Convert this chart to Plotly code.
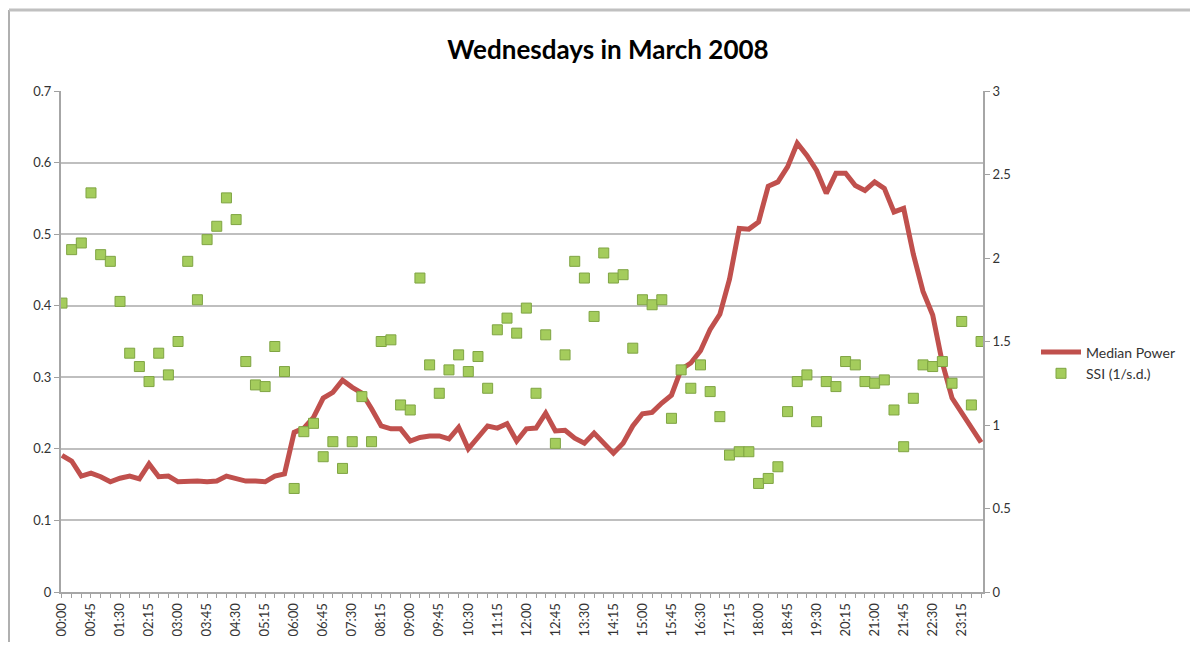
import plotly.graph_objects as go

times = [f"{h:02d}:{m:02d}" for h in range(24) for m in (0, 15, 30, 45)]

median_power = [
    0.191, 0.183, 0.162, 0.166, 0.161, 0.154, 0.159, 0.162, 0.158, 0.179,
    0.161, 0.162, 0.154, 0.155, 0.155, 0.154, 0.155, 0.162, 0.158, 0.155,
    0.155, 0.154, 0.162, 0.165, 0.223, 0.229, 0.244, 0.271, 0.279, 0.296,
    0.286, 0.278, 0.256, 0.232, 0.228, 0.228, 0.211, 0.216, 0.218, 0.218,
    0.214, 0.230, 0.200, 0.215, 0.232, 0.229, 0.235, 0.211, 0.228, 0.229,
    0.250, 0.225, 0.226, 0.215, 0.208, 0.222, 0.207, 0.194, 0.208, 0.232,
    0.249, 0.251, 0.264, 0.275, 0.311, 0.320, 0.337, 0.367, 0.388, 0.437,
    0.508, 0.507, 0.517, 0.567, 0.573, 0.594, 0.627, 0.610, 0.589, 0.557,
    0.585, 0.585, 0.568, 0.561, 0.573, 0.564, 0.531, 0.536, 0.472, 0.420,
    0.387, 0.320, 0.271, 0.250, 0.230, 0.209,
]

ssi = [
    1.73, 2.05, 2.09, 2.39, 2.02, 1.98, 1.74, 1.43, 1.35, 1.26,
    1.43, 1.30, 1.50, 1.98, 1.75, 2.11, 2.19, 2.36, 2.23, 1.38,
    1.24, 1.23, 1.47, 1.32, 0.62, 0.96, 1.01, 0.81, 0.90, 0.74,
    0.90, 1.17, 0.90, 1.50, 1.51, 1.12, 1.09, 1.88, 1.36, 1.19,
    1.33, 1.42, 1.32, 1.41, 1.22, 1.57, 1.64, 1.55, 1.70, 1.19,
    1.54, 0.89, 1.42, 1.98, 1.88, 1.65, 2.03, 1.88, 1.90, 1.46,
    1.75, 1.72, 1.75, 1.04, 1.33, 1.22, 1.36, 1.20, 1.05, 0.82,
    0.84, 0.84, 0.65, 0.68, 0.75, 1.08, 1.26, 1.30, 1.02, 1.26,
    1.23, 1.38, 1.36, 1.26, 1.25, 1.27, 1.09, 0.87, 1.16, 1.36,
    1.35, 1.38, 1.25, 1.62, 1.12, 1.50,
]

tick_text = [t if i % 3 == 0 else "" for i, t in enumerate(times)]
left_ticks = [0, 0.1, 0.2, 0.3, 0.4, 0.5, 0.6, 0.7]
left_labels = ["0", "0.1", "0.2", "0.3", "0.4", "0.5", "0.6", "0.7"]
right_ticks = [0, 0.5, 1, 1.5, 2, 2.5, 3]
right_labels = ["0", "0.5", "1", "1.5", "2", "2.5", "3"]

FONT = "Lato"
GRID = "#bfbfbf"

# page has an 8px body margin; figure coordinates are page coords minus 8
W, H = 1182, 634
PL, PR, PT, PB = 53, 975, 83, 584  # plot area in figure px

fig = go.Figure()
fig.add_trace(go.Scatter(
    x=times, y=median_power, name="Median Power", mode="lines",
    line=dict(color="#c0504d", width=5), yaxis="y",
))
fig.add_trace(go.Scatter(
    x=times, y=ssi, name="SSI (1/s.d.)", mode="markers",
    marker=dict(symbol="square", size=10, color="#a4cc5c",
                line=dict(color="#7fa443", width=1)),
    yaxis="y2",
))

fig.update_layout(
    width=W, height=H,
    margin=dict(l=PL, r=W - PR, t=PT, b=H - PB, autoexpand=False),
    paper_bgcolor="white", plot_bgcolor="white",
    font=dict(family=FONT, size=13, color="#404040"),
    title=dict(text="<b>Wednesdays in March 2008</b>", x=600 / W, xanchor="center",
               y=1 - 42 / H, yanchor="middle",
               font=dict(family=FONT, size=26, color="#000000")),
    xaxis=dict(
        type="category", range=[-0.1, 95.2], automargin=False,
        tickmode="array", tickvals=times, ticktext=tick_text,
        tickangle=-90, ticks="outside", ticklen=4, tickcolor="#a0a0a0",
        showgrid=False, showline=True, linecolor="#a6a6a6", linewidth=2,
        tickfont=dict(size=13, color="#333333"),
    ),
    yaxis=dict(
        range=[0, 0.7], tickmode="array", tickvals=left_ticks, ticktext=left_labels,
        automargin=False,
        showgrid=True, gridcolor=GRID, gridwidth=2,
        showline=True, linecolor="#a6a6a6", linewidth=2,
        ticks="outside", ticklen=5, tickcolor="#a0a0a0",
        zeroline=False, tickfont=dict(size=13, color="#333333"),
    ),
    yaxis2=dict(
        range=[0, 3], overlaying="y", side="right", automargin=False,
        tickmode="array", tickvals=right_ticks, ticktext=right_labels,
        showgrid=False, showline=True, linecolor="#a6a6a6", linewidth=2,
        ticks="outside", ticklen=5, tickcolor="#a0a0a0",
        zeroline=False, tickfont=dict(size=13, color="#333333"),
    ),
    legend=dict(
        x=(1028 - PL) / (PR - PL), xanchor="left",
        y=(PB - 355) / (PB - PT), yanchor="middle",
        font=dict(family=FONT, size=14, color="#333333"),
        bgcolor="rgba(0,0,0,0)", itemwidth=40, tracegroupgap=6,
    ),
    showlegend=True,
)

# chart-area frame (left and top edges visible)
fx = (1 - PL) / (PR - PL)
fy = (PB - 2) / (PB - PT)
fig.add_shape(type="line", xref="paper", yref="paper", x0=fx, x1=fx, y0=fy, y1=-0.2,
              line=dict(color="#b0b0b0", width=2))
fig.add_shape(type="line", xref="paper", yref="paper", x0=fx, x1=1.3, y0=fy, y1=fy,
              line=dict(color="#c0c0c0", width=3))

fig.write_html("out.html")
